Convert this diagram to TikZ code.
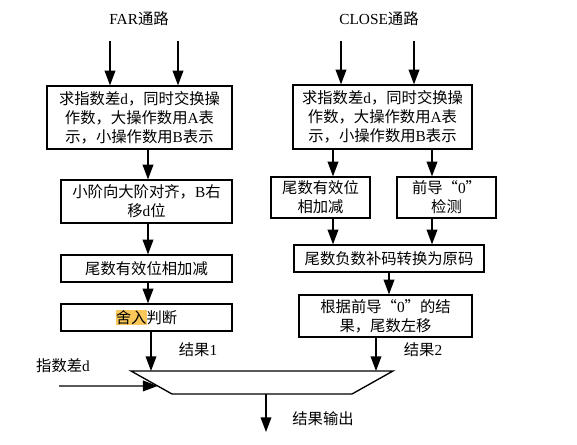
\documentclass[tikz,border=0pt]{standalone}
\usepackage{fontspec}
\setmainfont{Liberation Serif}
\newfontfamily\cjk{Noto Sans CJK SC}
% switch to the CJK font for Chinese characters
\XeTeXinterchartokenstate=1
\newXeTeXintercharclass\cjkclass
\count255="4E00
\loop\ifnum\count255<"A000
  \XeTeXcharclass\count255=\cjkclass
  \advance\count255 by 1
\repeat
\XeTeXcharclass"FF0C=\cjkclass
\XeTeXcharclass"201C=\cjkclass
\XeTeXcharclass"201D=\cjkclass
\XeTeXinterchartoks 0 \cjkclass={\begingroup\cjk}
\XeTeXinterchartoks 4095 \cjkclass={\begingroup\cjk}
\XeTeXinterchartoks \cjkclass 0={\endgroup}
\XeTeXinterchartoks \cjkclass 4095={\endgroup}
\usepackage{tikz}
\usetikzlibrary{arrows.meta,calc}
\definecolor{hl}{RGB}{250,200,90}
\newcommand{\zhfont}{\fontsize{11.5pt}{14.25pt}\selectfont}
\tikzset{blk/.style={draw,line width=0.9pt,inner sep=0pt,align=center,font=\zhfont},
  lbl/.style={inner sep=0pt,font=\zhfont}}
\begin{document}
\begin{tikzpicture}[x=0.75pt,y=-0.75pt,>={Triangle[width=8pt,length=11pt]},line width=1pt]
    \useasboundingbox (0,0) rectangle (577,445);
    % FAR path
    \node[lbl] (far) at (139,19) {FAR通路};
    \node[blk,minimum width=138.75pt,minimum height=47.25pt] (f1) at (139.5,117.5) {求指数差d，同时交换操\\作数，大操作数用A表\\示，小操作数用B表示};
    \node[blk,minimum width=128.25pt,minimum height=32.25pt] (f2) at (146.5,201.5) {小阶向大阶对齐，B右\\移d位};
    \node[blk,minimum width=128.25pt,minimum height=20.25pt] (f3) at (146.5,268.5) {尾数有效位相加减};
    \node[blk,minimum width=128.25pt,minimum height=20.25pt] (f4) at (146.5,317.5) {{\setlength\fboxsep{0pt}\colorbox{hl}{舍入}}判断};
    % CLOSE path
    \node[lbl] (close) at (379,19) {CLOSE通路};
    \node[blk,minimum width=134.25pt,minimum height=48pt] (c1) at (382.5,117) {求指数差d，同时交换操\\作数，大操作数用A表\\示，小操作数用B表示};
    \node[blk,minimum width=74.25pt,minimum height=30.75pt] (c2) at (320.5,197.5) {尾数有效位\\相加减};
    \node[blk,minimum width=74.25pt,minimum height=30.75pt] (c3) at (446.5,197.5) {前导“0”\\检测};
    \node[blk,minimum width=142.5pt,minimum height=20.25pt] (c4) at (389,258.5) {尾数负数补码转换为原码};
    \node[blk,minimum width=129.75pt,minimum height=31.5pt] (c5) at (385.5,316) {根据前导“0”的结\\果，尾数左移};

    \node[lbl] (res1) at (198,350) {结果1};
    \node[lbl] (res2) at (423,350) {结果2};
    \node[lbl] (dlbl) at (63,366) {指数差d};
    \node[lbl] (outl) at (323,419) {结果输出};

    % selector
    \coordinate (mtl) at (131,371);
    \coordinate (mtr) at (393,371);
    \coordinate (mbr) at (352,394);
    \coordinate (mbl) at (172,394);
    \draw (mtl) -- (mtr) -- (mbr) -- (mbl) -- cycle;

    \coordinate (fa) at (110,41);
    \coordinate (fb) at (178,41);
    \coordinate (fl) at (148,0);
    \coordinate (ca) at (341,41);
    \coordinate (cb) at (414,41);
    \coordinate (cl) at (333,0);
    \coordinate (cm) at (389,0);
    \coordinate (cr) at (432,0);
    \coordinate (r1) at (151,371);
    \coordinate (r2) at (376,371);
    \coordinate (din) at (59,386);
    \coordinate (res) at (266,432);

    \draw [->] (fa) -- (fa |- f1.north);
    \draw [->] (fb) -- (fb |- f1.north);
    \draw [->] (fl |- f1.south) -- (fl |- f2.north);
    \draw [->] (fl |- f2.south) -- (fl |- f3.north);
    \draw [->] (fl |- f3.south) -- (fl |- f4.north);
    \draw [->] (f4.south -| r1) -- (r1);
    \draw [->] (ca) -- (ca |- c1.north);
    \draw [->] (cb) -- (cb |- c1.north);
    \draw [->] (cl |- c1.south) -- (cl |- c2.north);
    \draw [->] (cr |- c1.south) -- (cr |- c3.north);
    \draw [->] (cl |- c2.south) -- (cl |- c4.north);
    \draw [->] (cr |- c3.south) -- (cr |- c4.north);
    \draw [->] (cm |- c4.south) -- (cm |- c5.north);
    \draw [->] (c5.south -| r2) -- (r2);
    \draw [->] (din) -- ($(mtl)!0.65!(mbl)$);
    \draw [->] (res |- mbl) -- (res);
\end{tikzpicture}
\end{document}
